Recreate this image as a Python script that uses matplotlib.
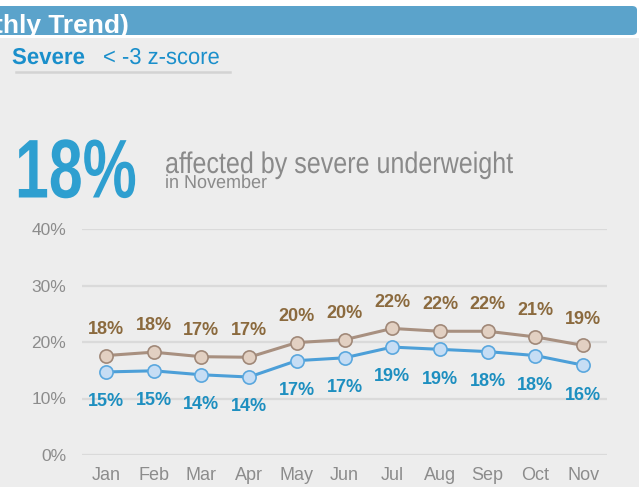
import matplotlib
matplotlib.use("Agg")
import matplotlib.pyplot as plt
from matplotlib.patches import Rectangle, FancyBboxPatch
from matplotlib.patheffects import AbstractPathEffect
from matplotlib.transforms import Affine2D

months = ["Jan", "Feb", "Mar", "Apr", "May", "Jun", "Jul", "Aug", "Sep", "Oct", "Nov"]
upper_series = [17.6, 18.2, 17.4, 17.3, 19.9, 20.4, 22.4, 21.9, 21.9, 20.9, 19.4]
severe_series = [14.7, 14.9, 14.2, 13.8, 16.7, 17.2, 19.1, 18.7, 18.3, 17.6, 15.9]
y_ticks = [0, 10, 20, 30, 40]
headline_value = "18%"

W, H = 639, 487
fig = plt.figure(figsize=(W / 100, H / 100), dpi=100)
fig.patch.set_facecolor("white")


class Squeeze(AbstractPathEffect):
    """Draw text horizontally condensed (the text stays a real text artist)."""
    def __init__(self, sx):
        super().__init__()
        self.sx = sx

    def draw_path(self, renderer, gc, tpath, affine, rgbFace=None):
        renderer.draw_path(gc, tpath, Affine2D().scale(self.sx, 1) + affine, rgbFace)


def fx(px):
    return px / W


def fy(py):
    return 1 - py / H


# gray panel
fig.patches.append(Rectangle((0, 0), 1, fy(38), transform=fig.transFigure,
                             facecolor="#EDEDED", edgecolor="none", zorder=-2))
# header bar
fig.patches.append(FancyBboxPatch((fx(-20), fy(35)), fx(657), fy(6) - fy(35),
                                  boxstyle="round,pad=0,rounding_size=0.008",
                                  transform=fig.transFigure,
                                  facecolor="#5BA3CB", edgecolor="none", zorder=-1))

sans = ["Liberation Sans", "DejaVu Sans"]

fig.text(fx(-6), fy(32.5), "thly Trend)", color="white", fontsize=19, fontweight="bold",
         family=sans, va="baseline", ha="left", zorder=3)

fig.text(fx(12), fy(64), "Severe", color="#1A8FCB", fontsize=16.5, fontweight="bold",
         family=sans, va="baseline", ha="left", path_effects=[Squeeze(0.97)])
fig.text(fx(103), fy(64), "< -3 z-score", color="#1A8FCB", fontsize=16.5,
         family=sans, va="baseline", ha="left", path_effects=[Squeeze(0.96)])
fig.add_artist(plt.Line2D([fx(16), fx(230)], [fy(71.5), fy(71.5)], transform=fig.transFigure,
                          color="#D3D3D3", linewidth=1.8))

fig.text(fx(15), fy(197.5), headline_value, color="#2E9FD0", fontsize=60, fontweight="bold",
         family=sans, va="baseline", ha="left", path_effects=[Squeeze(0.73)])
fig.text(fx(165), fy(173), "affected by severe underweight", color="#8A8A8A", fontsize=21.5,
         family=sans, va="baseline", ha="left", path_effects=[Squeeze(0.84)])
fig.text(fx(165), fy(188), "in November", color="#8A8A8A", fontsize=13.5,
         family=sans, va="baseline", ha="left", path_effects=[Squeeze(0.96)])

# chart axes
ax = fig.add_axes([fx(82), fy(455), fx(607) - fx(82), fy(229) - fy(455)])
ax.set_facecolor("none")
x = list(range(len(months)))
ax.set_xlim(-0.5, len(months) - 0.5)
ax.set_ylim(0, 40)
ax.set_yticks(y_ticks)
ax.set_yticklabels([f"{t}%" for t in y_ticks])
ax.set_xticks(x)
ax.set_xticklabels(months)
ax.grid(axis="y", color="#DADADA", linewidth=1.6)
ax.set_axisbelow(True)
for s in ax.spines.values():
    s.set_visible(False)
ax.tick_params(length=0, colors="#8C8C8C")
ax.tick_params(axis="y", pad=11.5, labelsize=12.5)
ax.tick_params(axis="x", pad=9, labelsize=13)
for lab in ax.get_xticklabels() + ax.get_yticklabels():
    lab.set_family(sans)
    lab.set_color("#8C8C8C")

ax.plot(x, upper_series, color="#A89080", linewidth=2.2, marker="o", markersize=9.5,
        markerfacecolor="#E2D0C2", markeredgecolor="#A08878", markeredgewidth=1.2,
        zorder=3, clip_on=False)
ax.plot(x, severe_series, color="#4C9FD8", linewidth=2.2, marker="o", markersize=9.5,
        markerfacecolor="#C6DDF4", markeredgecolor="#5AA7DE", markeredgewidth=1.2,
        zorder=3, clip_on=False)

for xi, v in zip(x, upper_series):
    ax.annotate(f"{round(v)}%", (xi, v), xytext=(0, 19), textcoords="offset points",
                ha="center", va="center", color="#8B6A3E", fontsize=13, fontweight="bold",
                family=sans)
for xi, v in zip(x, severe_series):
    ax.annotate(f"{round(v)}%", (xi, v), xytext=(0, -21.5), textcoords="offset points",
                ha="center", va="center", color="#1E8FC0", fontsize=13, fontweight="bold",
                family=sans)

fig.savefig("out.png", dpi=100, facecolor=fig.get_facecolor())
